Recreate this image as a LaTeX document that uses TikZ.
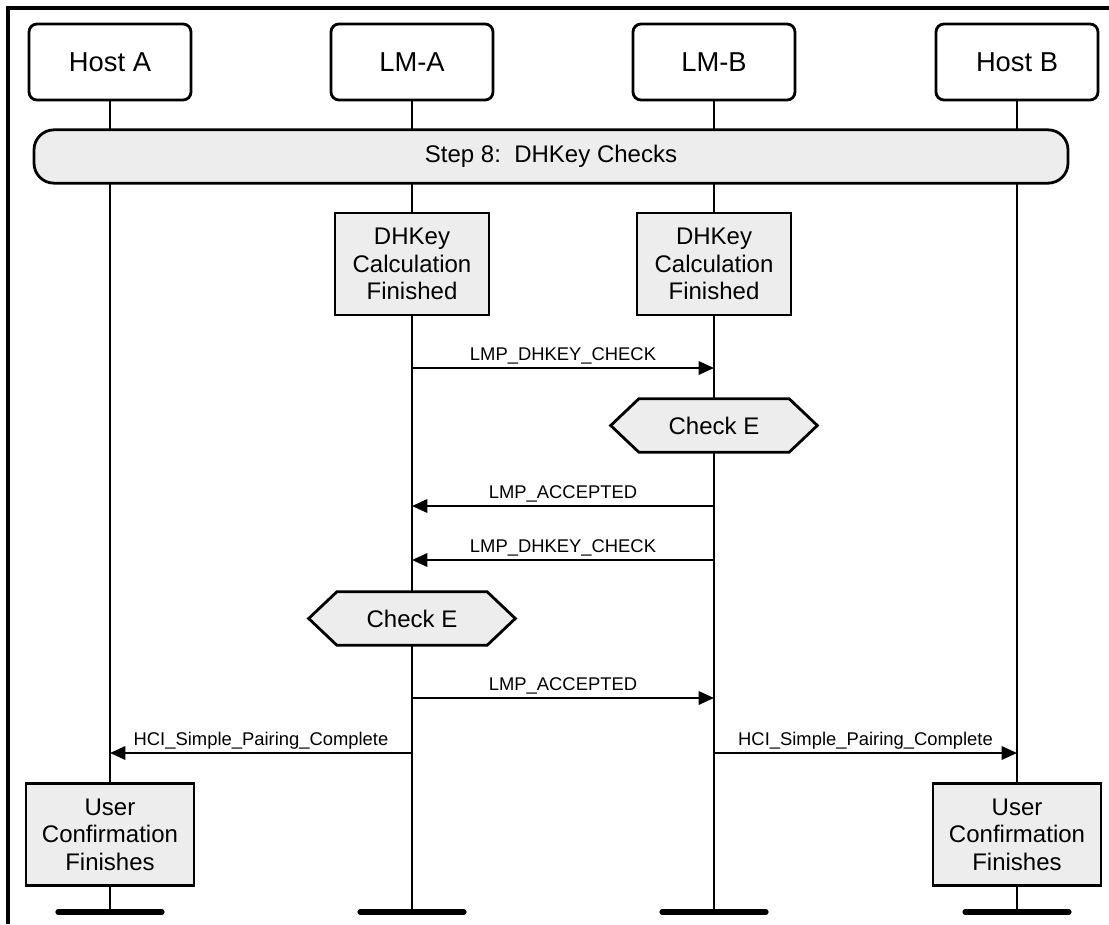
\documentclass[tikz,border=0pt]{standalone}
\usepackage{fontspec}
\setmainfont{Liberation Sans}
\usepackage{xcolor}
\usepackage{tikz}
\usetikzlibrary{arrows.meta,shapes.symbols}
\definecolor{boxgray}{RGB}{237,237,237}

\begin{document}
\begin{tikzpicture}[x=0.75pt, y=-0.75pt, >={Triangle[length=11.5pt,width=10pt]},
  actor/.style={draw, line width=2.1pt, rounded corners=6pt, fill=white,
    minimum width=121.5pt, minimum height=57pt, font=\fontsize{20.5}{24}\selectfont},
  stepbar/.style={draw, line width=2.1pt, rounded corners=15pt, fill=boxgray,
    minimum width=775.5pt, minimum height=40pt, font=\fontsize{18}{21}\selectfont},
  procbox/.style={draw, line width=2.1pt, fill=boxgray, align=center,
    minimum height=76.5pt, font=\fontsize{18}{20.6}\selectfont},
  checkbox/.style={signal, signal to=east and west, signal pointer angle=87, draw,
    line width=2.1pt, fill=boxgray, minimum width=155pt, minimum height=40pt,
    font=\fontsize{18}{21}\selectfont},
  life/.style={line width=1.7pt},
  msg/.style={->, line width=1.7pt},
  lbl/.style={above=1pt, inner sep=1pt, font=\fontsize{13.8}{16}\selectfont},
  foot/.style={line width=3.9pt, line cap=round}]
  \useasboundingbox (0,0) rectangle (1109,924);
  \draw[line width=2.3pt] (8,924) -- (8,8) -- (1109,8);

  \node[actor] (hostA) at (110,62) {Host A};
  \node[actor] (lmA) at (412,62) {LM-A};
  \node[actor] (lmB) at (714,62) {LM-B};
  \node[actor] (hostB) at (1017,62) {Host B};

  \coordinate (bot) at (0,912);
  \foreach \n in {hostA,lmA,lmB,hostB} {
    \draw[life] (\n.south) -- (\n |- bot) coordinate (\n end);
    \draw[foot] ([xshift=-39pt]\n end) -- ([xshift=39pt]\n end);
  }

  \node[stepbar] (step) at (551,156.5) {Step 8:\ \ DHKey Checks};

  \node[procbox, minimum width=115.5pt] (dhA) at (lmA |- 0,264) {DHKey\\Calculation\\Finished};
  \node[procbox, minimum width=115.5pt] (dhB) at (lmB |- 0,264) {DHKey\\Calculation\\Finished};

  \coordinate (r1) at (0,368);
  \coordinate (r2) at (0,506);
  \coordinate (r3) at (0,560);
  \coordinate (r4) at (0,698);
  \coordinate (r5) at (0,753);

  \draw[msg] (lmA |- r1) -- node[lbl] {LMP\_DHKEY\_CHECK} (lmB |- r1);
  \node[checkbox] (chkB) at (lmB |- 0,425.5) {Check E};
  \draw[msg] (lmB |- r2) -- node[lbl] {LMP\_ACCEPTED} (lmA |- r2);
  \draw[msg] (lmB |- r3) -- node[lbl] {LMP\_DHKEY\_CHECK} (lmA |- r3);
  \node[checkbox] (chkA) at (lmA |- 0,618.5) {Check E};
  \draw[msg] (lmA |- r4) -- node[lbl] {LMP\_ACCEPTED} (lmB |- r4);
  \draw[msg] (lmA |- r5) -- node[lbl] {HCI\_Simple\_Pairing\_Complete} (hostA |- r5);
  \draw[msg] (lmB |- r5) -- node[lbl] {HCI\_Simple\_Pairing\_Complete} (hostB |- r5);

  \node[procbox, minimum width=126pt] (userA) at (hostA |- 0,834.5) {User\\Confirmation\\Finishes};
  \node[procbox, minimum width=126pt] (userB) at (hostB |- 0,834.5) {User\\Confirmation\\Finishes};
\end{tikzpicture}
\end{document}
